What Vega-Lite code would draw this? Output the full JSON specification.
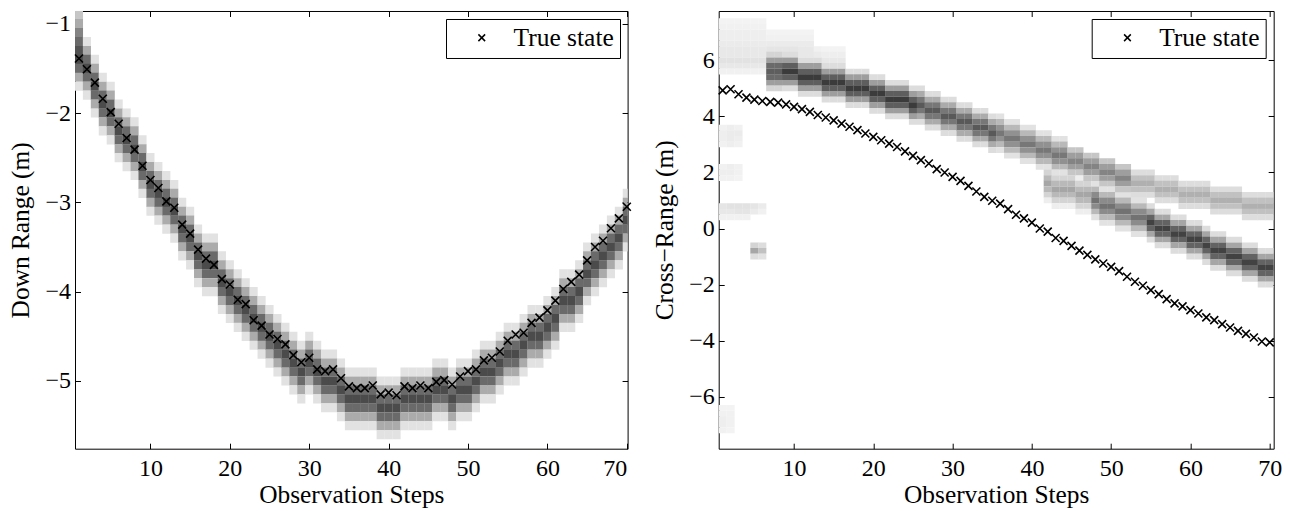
{
"$schema":"https://vega.github.io/schema/vega-lite/v6.json",
"background":"white",
"padding":{"left":8,"top":10,"right":5,"bottom":0},
"bounds":"flush",
"spacing":90.7,
"resolve":{"scale":{"shape":"independent"},"legend":{"shape":"independent"}},
"config":{
"view":{"stroke":null},
"font":"Liberation Serif",
"axis":{"grid":false,"domainColor":"black","domainWidth":1,"tickColor":"black","tickWidth":1,"tickSize":-5.5,"labelFont":"Liberation Serif","labelFontSize":24,"labelColor":"black","titleFont":"Liberation Serif","titleFontSize":25.4,"titleFontWeight":"normal","titleColor":"black","zindex":1},
"axisBottom":{"labelPadding":13,"titlePadding":2},
"axisLeft":{"labelPadding":10,"titlePadding":11},
"legend":{"strokeColor":"black","fillColor":"white","padding":6,"cornerRadius":0,"labelFont":"Liberation Serif","labelFontSize":25.5,"labelColor":"black","symbolStrokeColor":"black","symbolStrokeWidth":1.5,"symbolSize":45,"symbolOffset":17,"labelOffset":19}
},
"datasets":{
"LT":[{"s":1,"y":-1.39},{"s":2,"y":-1.51},{"s":3,"y":-1.66},{"s":4,"y":-1.84},{"s":5,"y":-1.99},{"s":6,"y":-2.12},{"s":7,"y":-2.28},{"s":8,"y":-2.41},{"s":9,"y":-2.59},{"s":10,"y":-2.75},{"s":11,"y":-2.84},{"s":12,"y":-2.99},{"s":13,"y":-3.06},{"s":14,"y":-3.25},{"s":15,"y":-3.35},{"s":16,"y":-3.53},{"s":17,"y":-3.63},{"s":18,"y":-3.7},{"s":19,"y":-3.86},{"s":20,"y":-3.92},{"s":21,"y":-4.09},{"s":22,"y":-4.14},{"s":23,"y":-4.32},{"s":24,"y":-4.38},{"s":25,"y":-4.48},{"s":26,"y":-4.53},{"s":27,"y":-4.59},{"s":28,"y":-4.71},{"s":29,"y":-4.79},{"s":30,"y":-4.74},{"s":31,"y":-4.87},{"s":32,"y":-4.89},{"s":33,"y":-4.87},{"s":34,"y":-4.97},{"s":35,"y":-5.06},{"s":36,"y":-5.08},{"s":37,"y":-5.08},{"s":38,"y":-5.05},{"s":39,"y":-5.15},{"s":40,"y":-5.13},{"s":41,"y":-5.16},{"s":42,"y":-5.06},{"s":43,"y":-5.08},{"s":44,"y":-5.05},{"s":45,"y":-5.08},{"s":46,"y":-5.01},{"s":47,"y":-4.99},{"s":48,"y":-5.04},{"s":49,"y":-4.95},{"s":50,"y":-4.89},{"s":51,"y":-4.87},{"s":52,"y":-4.77},{"s":53,"y":-4.74},{"s":54,"y":-4.67},{"s":55,"y":-4.55},{"s":56,"y":-4.48},{"s":57,"y":-4.46},{"s":58,"y":-4.35},{"s":59,"y":-4.29},{"s":60,"y":-4.21},{"s":61,"y":-4.1},{"s":62,"y":-3.97},{"s":63,"y":-3.89},{"s":64,"y":-3.81},{"s":65,"y":-3.65},{"s":66,"y":-3.5},{"s":67,"y":-3.43},{"s":68,"y":-3.29},{"s":69,"y":-3.18},{"s":70,"y":-3.05}],
"RT":[{"s":1,"y":4.93},{"s":2,"y":4.97},{"s":3,"y":4.79},{"s":4,"y":4.67},{"s":5,"y":4.6},{"s":6,"y":4.55},{"s":7,"y":4.52},{"s":8,"y":4.49},{"s":9,"y":4.43},{"s":10,"y":4.34},{"s":11,"y":4.26},{"s":12,"y":4.16},{"s":13,"y":4.05},{"s":14,"y":3.96},{"s":15,"y":3.86},{"s":16,"y":3.74},{"s":17,"y":3.63},{"s":18,"y":3.51},{"s":19,"y":3.39},{"s":20,"y":3.27},{"s":21,"y":3.15},{"s":22,"y":3.03},{"s":23,"y":2.91},{"s":24,"y":2.75},{"s":25,"y":2.59},{"s":26,"y":2.44},{"s":27,"y":2.32},{"s":28,"y":2.12},{"s":29,"y":2.0},{"s":30,"y":1.84},{"s":31,"y":1.7},{"s":32,"y":1.52},{"s":33,"y":1.32},{"s":34,"y":1.13},{"s":35,"y":0.99},{"s":36,"y":0.89},{"s":37,"y":0.69},{"s":38,"y":0.49},{"s":39,"y":0.36},{"s":40,"y":0.21},{"s":41,"y":0.0},{"s":42,"y":-0.11},{"s":43,"y":-0.34},{"s":44,"y":-0.44},{"s":45,"y":-0.62},{"s":46,"y":-0.79},{"s":47,"y":-0.94},{"s":48,"y":-1.1},{"s":49,"y":-1.25},{"s":50,"y":-1.37},{"s":51,"y":-1.52},{"s":52,"y":-1.72},{"s":53,"y":-1.9},{"s":54,"y":-2.04},{"s":55,"y":-2.2},{"s":56,"y":-2.34},{"s":57,"y":-2.52},{"s":58,"y":-2.67},{"s":59,"y":-2.78},{"s":60,"y":-2.91},{"s":61,"y":-3.03},{"s":62,"y":-3.17},{"s":63,"y":-3.27},{"s":64,"y":-3.41},{"s":65,"y":-3.53},{"s":66,"y":-3.65},{"s":67,"y":-3.76},{"s":68,"y":-3.89},{"s":69,"y":-4.03},{"s":70,"y":-4.06}],
"L":[
{"s":1,"y":-0.9,"v":0.2},{"s":1,"y":-1,"v":0.3},{"s":1,"y":-1.1,"v":0.45},{"s":1,"y":-1.2,"v":0.55},{"s":1,"y":-1.3,"v":0.65},{"s":1,"y":-1.4,"v":0.68},{"s":1,"y":-1.5,"v":0.55},{"s":1,"y":-1.6,"v":0.3},{"s":1,"y":-1.7,"v":0.1},
{"s":2,"y":-1.2,"v":0.1},{"s":2,"y":-1.3,"v":0.3},{"s":2,"y":-1.4,"v":0.55},{"s":2,"y":-1.5,"v":0.68},{"s":2,"y":-1.6,"v":0.55},{"s":2,"y":-1.7,"v":0.3},{"s":2,"y":-1.8,"v":0.1},
{"s":3,"y":-1.4,"v":0.1},{"s":3,"y":-1.5,"v":0.3},{"s":3,"y":-1.6,"v":0.55},{"s":3,"y":-1.7,"v":0.68},{"s":3,"y":-1.8,"v":0.55},{"s":3,"y":-1.9,"v":0.3},{"s":3,"y":-2,"v":0.1},
{"s":4,"y":-1.6,"v":0.1},{"s":4,"y":-1.7,"v":0.3},{"s":4,"y":-1.8,"v":0.55},{"s":4,"y":-1.9,"v":0.68},{"s":4,"y":-2,"v":0.55},{"s":4,"y":-2.1,"v":0.3},{"s":4,"y":-2.2,"v":0.1},
{"s":5,"y":-1.7,"v":0.1},{"s":5,"y":-1.8,"v":0.3},{"s":5,"y":-1.9,"v":0.55},{"s":5,"y":-2,"v":0.68},{"s":5,"y":-2.1,"v":0.55},{"s":5,"y":-2.2,"v":0.3},{"s":5,"y":-2.3,"v":0.1},
{"s":6,"y":-1.9,"v":0.1},{"s":6,"y":-2,"v":0.3},{"s":6,"y":-2.1,"v":0.55},{"s":6,"y":-2.2,"v":0.68},{"s":6,"y":-2.3,"v":0.55},{"s":6,"y":-2.4,"v":0.3},{"s":6,"y":-2.5,"v":0.1},
{"s":7,"y":-2,"v":0.1},{"s":7,"y":-2.1,"v":0.3},{"s":7,"y":-2.2,"v":0.55},{"s":7,"y":-2.3,"v":0.68},{"s":7,"y":-2.4,"v":0.55},{"s":7,"y":-2.5,"v":0.3},{"s":7,"y":-2.6,"v":0.1},
{"s":8,"y":-2.1,"v":0.1},{"s":8,"y":-2.2,"v":0.3},{"s":8,"y":-2.3,"v":0.55},{"s":8,"y":-2.4,"v":0.68},{"s":8,"y":-2.5,"v":0.55},{"s":8,"y":-2.6,"v":0.3},{"s":8,"y":-2.7,"v":0.1},
{"s":9,"y":-2.3,"v":0.1},{"s":9,"y":-2.4,"v":0.3},{"s":9,"y":-2.5,"v":0.55},{"s":9,"y":-2.6,"v":0.68},{"s":9,"y":-2.7,"v":0.55},{"s":9,"y":-2.8,"v":0.3},{"s":9,"y":-2.9,"v":0.1},
{"s":10,"y":-2.5,"v":0.1},{"s":10,"y":-2.6,"v":0.3},{"s":10,"y":-2.7,"v":0.55},{"s":10,"y":-2.8,"v":0.68},{"s":10,"y":-2.9,"v":0.55},{"s":10,"y":-3,"v":0.3},{"s":10,"y":-3.1,"v":0.1},
{"s":11,"y":-2.6,"v":0.1},{"s":11,"y":-2.7,"v":0.3},{"s":11,"y":-2.8,"v":0.55},{"s":11,"y":-2.9,"v":0.68},{"s":11,"y":-3,"v":0.55},{"s":11,"y":-3.1,"v":0.3},{"s":11,"y":-3.2,"v":0.1},
{"s":12,"y":-2.7,"v":0.1},{"s":12,"y":-2.8,"v":0.3},{"s":12,"y":-2.9,"v":0.55},{"s":12,"y":-3,"v":0.68},{"s":12,"y":-3.1,"v":0.55},{"s":12,"y":-3.2,"v":0.3},{"s":12,"y":-3.3,"v":0.1},
{"s":13,"y":-2.8,"v":0.1},{"s":13,"y":-2.9,"v":0.3},{"s":13,"y":-3,"v":0.55},{"s":13,"y":-3.1,"v":0.68},{"s":13,"y":-3.2,"v":0.55},{"s":13,"y":-3.3,"v":0.3},{"s":13,"y":-3.4,"v":0.1},
{"s":14,"y":-3,"v":0.1},{"s":14,"y":-3.1,"v":0.3},{"s":14,"y":-3.2,"v":0.55},{"s":14,"y":-3.3,"v":0.68},{"s":14,"y":-3.4,"v":0.55},{"s":14,"y":-3.5,"v":0.3},{"s":14,"y":-3.6,"v":0.1},
{"s":15,"y":-3.1,"v":0.1},{"s":15,"y":-3.2,"v":0.3},{"s":15,"y":-3.3,"v":0.55},{"s":15,"y":-3.4,"v":0.68},{"s":15,"y":-3.5,"v":0.55},{"s":15,"y":-3.6,"v":0.3},{"s":15,"y":-3.7,"v":0.1},
{"s":16,"y":-3.3,"v":0.1},{"s":16,"y":-3.4,"v":0.3},{"s":16,"y":-3.5,"v":0.55},{"s":16,"y":-3.6,"v":0.68},{"s":16,"y":-3.7,"v":0.55},{"s":16,"y":-3.8,"v":0.3},{"s":16,"y":-3.9,"v":0.1},
{"s":17,"y":-3.4,"v":0.1},{"s":17,"y":-3.5,"v":0.3},{"s":17,"y":-3.6,"v":0.55},{"s":17,"y":-3.7,"v":0.68},{"s":17,"y":-3.8,"v":0.55},{"s":17,"y":-3.9,"v":0.3},{"s":17,"y":-4,"v":0.1},
{"s":18,"y":-3.4,"v":0.1},{"s":18,"y":-3.5,"v":0.3},{"s":18,"y":-3.6,"v":0.55},{"s":18,"y":-3.7,"v":0.68},{"s":18,"y":-3.8,"v":0.55},{"s":18,"y":-3.9,"v":0.3},{"s":18,"y":-4,"v":0.1},
{"s":19,"y":-3.6,"v":0.1},{"s":19,"y":-3.7,"v":0.3},{"s":19,"y":-3.8,"v":0.55},{"s":19,"y":-3.9,"v":0.68},{"s":19,"y":-4,"v":0.55},{"s":19,"y":-4.1,"v":0.3},{"s":19,"y":-4.2,"v":0.1},
{"s":20,"y":-3.7,"v":0.1},{"s":20,"y":-3.8,"v":0.3},{"s":20,"y":-3.9,"v":0.55},{"s":20,"y":-4,"v":0.68},{"s":20,"y":-4.1,"v":0.55},{"s":20,"y":-4.2,"v":0.3},{"s":20,"y":-4.3,"v":0.1},
{"s":21,"y":-3.8,"v":0.1},{"s":21,"y":-3.9,"v":0.3},{"s":21,"y":-4,"v":0.55},{"s":21,"y":-4.1,"v":0.68},{"s":21,"y":-4.2,"v":0.55},{"s":21,"y":-4.3,"v":0.3},{"s":21,"y":-4.4,"v":0.1},
{"s":22,"y":-3.9,"v":0.1},{"s":22,"y":-4,"v":0.3},{"s":22,"y":-4.1,"v":0.55},{"s":22,"y":-4.2,"v":0.68},{"s":22,"y":-4.3,"v":0.55},{"s":22,"y":-4.4,"v":0.3},{"s":22,"y":-4.5,"v":0.1},
{"s":23,"y":-4,"v":0.1},{"s":23,"y":-4.1,"v":0.3},{"s":23,"y":-4.2,"v":0.55},{"s":23,"y":-4.3,"v":0.68},{"s":23,"y":-4.4,"v":0.55},{"s":23,"y":-4.5,"v":0.3},{"s":23,"y":-4.6,"v":0.1},
{"s":24,"y":-4.1,"v":0.1},{"s":24,"y":-4.2,"v":0.3},{"s":24,"y":-4.3,"v":0.55},{"s":24,"y":-4.4,"v":0.68},{"s":24,"y":-4.5,"v":0.55},{"s":24,"y":-4.6,"v":0.3},{"s":24,"y":-4.7,"v":0.1},
{"s":25,"y":-4.2,"v":0.1},{"s":25,"y":-4.3,"v":0.3},{"s":25,"y":-4.4,"v":0.55},{"s":25,"y":-4.5,"v":0.68},{"s":25,"y":-4.6,"v":0.55},{"s":25,"y":-4.7,"v":0.3},{"s":25,"y":-4.8,"v":0.1},
{"s":26,"y":-4.3,"v":0.1},{"s":26,"y":-4.4,"v":0.3},{"s":26,"y":-4.5,"v":0.55},{"s":26,"y":-4.6,"v":0.68},{"s":26,"y":-4.7,"v":0.55},{"s":26,"y":-4.8,"v":0.3},{"s":26,"y":-4.9,"v":0.1},
{"s":27,"y":-4.4,"v":0.1},{"s":27,"y":-4.5,"v":0.3},{"s":27,"y":-4.6,"v":0.55},{"s":27,"y":-4.7,"v":0.68},{"s":27,"y":-4.8,"v":0.55},{"s":27,"y":-4.9,"v":0.3},{"s":27,"y":-5,"v":0.1},
{"s":28,"y":-4.5,"v":0.1},{"s":28,"y":-4.6,"v":0.3},{"s":28,"y":-4.7,"v":0.55},{"s":28,"y":-4.8,"v":0.68},{"s":28,"y":-4.9,"v":0.55},{"s":28,"y":-5,"v":0.3},{"s":28,"y":-5.1,"v":0.1},
{"s":29,"y":-4.6,"v":0.1},{"s":29,"y":-4.7,"v":0.3},{"s":29,"y":-4.8,"v":0.55},{"s":29,"y":-4.9,"v":0.68},{"s":29,"y":-5,"v":0.55},{"s":29,"y":-5.1,"v":0.3},{"s":29,"y":-5.2,"v":0.1},
{"s":30,"y":-4.5,"v":0.1},{"s":30,"y":-4.6,"v":0.3},{"s":30,"y":-4.7,"v":0.55},{"s":30,"y":-4.8,"v":0.68},{"s":30,"y":-4.9,"v":0.55},{"s":30,"y":-5,"v":0.3},{"s":30,"y":-5.1,"v":0.1},
{"s":31,"y":-4.6,"v":0.1},{"s":31,"y":-4.7,"v":0.3},{"s":31,"y":-4.8,"v":0.55},{"s":31,"y":-4.9,"v":0.68},{"s":31,"y":-5,"v":0.55},{"s":31,"y":-5.1,"v":0.3},{"s":31,"y":-5.2,"v":0.1},
{"s":32,"y":-4.7,"v":0.1},{"s":32,"y":-4.8,"v":0.3},{"s":32,"y":-4.9,"v":0.55},{"s":32,"y":-5,"v":0.68},{"s":32,"y":-5.1,"v":0.55},{"s":32,"y":-5.2,"v":0.3},{"s":32,"y":-5.3,"v":0.1},
{"s":33,"y":-4.7,"v":0.1},{"s":33,"y":-4.8,"v":0.3},{"s":33,"y":-4.9,"v":0.55},{"s":33,"y":-5,"v":0.68},{"s":33,"y":-5.1,"v":0.55},{"s":33,"y":-5.2,"v":0.3},{"s":33,"y":-5.3,"v":0.1},
{"s":34,"y":-4.8,"v":0.1},{"s":34,"y":-4.9,"v":0.3},{"s":34,"y":-5,"v":0.55},{"s":34,"y":-5.1,"v":0.68},{"s":34,"y":-5.2,"v":0.55},{"s":34,"y":-5.3,"v":0.3},{"s":34,"y":-5.4,"v":0.1},
{"s":35,"y":-4.9,"v":0.1},{"s":35,"y":-5,"v":0.3},{"s":35,"y":-5.1,"v":0.55},{"s":35,"y":-5.2,"v":0.68},{"s":35,"y":-5.3,"v":0.55},{"s":35,"y":-5.4,"v":0.3},{"s":35,"y":-5.5,"v":0.1},
{"s":36,"y":-4.9,"v":0.1},{"s":36,"y":-5,"v":0.3},{"s":36,"y":-5.1,"v":0.55},{"s":36,"y":-5.2,"v":0.68},{"s":36,"y":-5.3,"v":0.55},{"s":36,"y":-5.4,"v":0.3},{"s":36,"y":-5.5,"v":0.1},
{"s":37,"y":-4.9,"v":0.1},{"s":37,"y":-5,"v":0.3},{"s":37,"y":-5.1,"v":0.55},{"s":37,"y":-5.2,"v":0.68},{"s":37,"y":-5.3,"v":0.55},{"s":37,"y":-5.4,"v":0.3},{"s":37,"y":-5.5,"v":0.1},
{"s":38,"y":-4.9,"v":0.1},{"s":38,"y":-5,"v":0.3},{"s":38,"y":-5.1,"v":0.55},{"s":38,"y":-5.2,"v":0.68},{"s":38,"y":-5.3,"v":0.55},{"s":38,"y":-5.4,"v":0.3},{"s":38,"y":-5.5,"v":0.1},
{"s":39,"y":-5,"v":0.1},{"s":39,"y":-5.1,"v":0.3},{"s":39,"y":-5.2,"v":0.55},{"s":39,"y":-5.3,"v":0.68},{"s":39,"y":-5.4,"v":0.55},{"s":39,"y":-5.5,"v":0.3},{"s":39,"y":-5.6,"v":0.1},
{"s":40,"y":-5,"v":0.1},{"s":40,"y":-5.1,"v":0.3},{"s":40,"y":-5.2,"v":0.55},{"s":40,"y":-5.3,"v":0.68},{"s":40,"y":-5.4,"v":0.55},{"s":40,"y":-5.5,"v":0.3},{"s":40,"y":-5.6,"v":0.1},
{"s":41,"y":-5,"v":0.1},{"s":41,"y":-5.1,"v":0.3},{"s":41,"y":-5.2,"v":0.55},{"s":41,"y":-5.3,"v":0.68},{"s":41,"y":-5.4,"v":0.55},{"s":41,"y":-5.5,"v":0.3},{"s":41,"y":-5.6,"v":0.1},
{"s":42,"y":-4.9,"v":0.1},{"s":42,"y":-5,"v":0.3},{"s":42,"y":-5.1,"v":0.55},{"s":42,"y":-5.2,"v":0.68},{"s":42,"y":-5.3,"v":0.55},{"s":42,"y":-5.4,"v":0.3},{"s":42,"y":-5.5,"v":0.1},
{"s":43,"y":-4.9,"v":0.1},{"s":43,"y":-5,"v":0.3},{"s":43,"y":-5.1,"v":0.55},{"s":43,"y":-5.2,"v":0.68},{"s":43,"y":-5.3,"v":0.55},{"s":43,"y":-5.4,"v":0.3},{"s":43,"y":-5.5,"v":0.1},
{"s":44,"y":-4.9,"v":0.1},{"s":44,"y":-5,"v":0.3},{"s":44,"y":-5.1,"v":0.55},{"s":44,"y":-5.2,"v":0.68},{"s":44,"y":-5.3,"v":0.55},{"s":44,"y":-5.4,"v":0.3},{"s":44,"y":-5.5,"v":0.1},
{"s":45,"y":-4.9,"v":0.1},{"s":45,"y":-5,"v":0.3},{"s":45,"y":-5.1,"v":0.55},{"s":45,"y":-5.2,"v":0.68},{"s":45,"y":-5.3,"v":0.55},{"s":45,"y":-5.4,"v":0.3},{"s":45,"y":-5.5,"v":0.1},
{"s":46,"y":-4.8,"v":0.1},{"s":46,"y":-4.9,"v":0.3},{"s":46,"y":-5,"v":0.55},{"s":46,"y":-5.1,"v":0.68},{"s":46,"y":-5.2,"v":0.55},{"s":46,"y":-5.3,"v":0.3},{"s":46,"y":-5.4,"v":0.1},
{"s":47,"y":-4.8,"v":0.1},{"s":47,"y":-4.9,"v":0.3},{"s":47,"y":-5,"v":0.55},{"s":47,"y":-5.1,"v":0.68},{"s":47,"y":-5.2,"v":0.55},{"s":47,"y":-5.3,"v":0.3},{"s":47,"y":-5.4,"v":0.1},
{"s":48,"y":-4.9,"v":0.1},{"s":48,"y":-5,"v":0.3},{"s":48,"y":-5.1,"v":0.55},{"s":48,"y":-5.2,"v":0.68},{"s":48,"y":-5.3,"v":0.55},{"s":48,"y":-5.4,"v":0.3},{"s":48,"y":-5.5,"v":0.1},
{"s":49,"y":-4.8,"v":0.1},{"s":49,"y":-4.9,"v":0.3},{"s":49,"y":-5,"v":0.55},{"s":49,"y":-5.1,"v":0.68},{"s":49,"y":-5.2,"v":0.55},{"s":49,"y":-5.3,"v":0.3},{"s":49,"y":-5.4,"v":0.1},
{"s":50,"y":-4.8,"v":0.1},{"s":50,"y":-4.9,"v":0.3},{"s":50,"y":-5,"v":0.55},{"s":50,"y":-5.1,"v":0.68},{"s":50,"y":-5.2,"v":0.55},{"s":50,"y":-5.3,"v":0.3},{"s":50,"y":-5.4,"v":0.1},
{"s":51,"y":-4.7,"v":0.1},{"s":51,"y":-4.8,"v":0.3},{"s":51,"y":-4.9,"v":0.55},{"s":51,"y":-5,"v":0.68},{"s":51,"y":-5.1,"v":0.55},{"s":51,"y":-5.2,"v":0.3},{"s":51,"y":-5.3,"v":0.1},
{"s":52,"y":-4.6,"v":0.1},{"s":52,"y":-4.7,"v":0.3},{"s":52,"y":-4.8,"v":0.55},{"s":52,"y":-4.9,"v":0.68},{"s":52,"y":-5,"v":0.55},{"s":52,"y":-5.1,"v":0.3},{"s":52,"y":-5.2,"v":0.1},
{"s":53,"y":-4.6,"v":0.1},{"s":53,"y":-4.7,"v":0.3},{"s":53,"y":-4.8,"v":0.55},{"s":53,"y":-4.9,"v":0.68},{"s":53,"y":-5,"v":0.55},{"s":53,"y":-5.1,"v":0.3},{"s":53,"y":-5.2,"v":0.1},
{"s":54,"y":-4.5,"v":0.1},{"s":54,"y":-4.6,"v":0.3},{"s":54,"y":-4.7,"v":0.55},{"s":54,"y":-4.8,"v":0.68},{"s":54,"y":-4.9,"v":0.55},{"s":54,"y":-5,"v":0.3},{"s":54,"y":-5.1,"v":0.1},
{"s":55,"y":-4.4,"v":0.1},{"s":55,"y":-4.5,"v":0.3},{"s":55,"y":-4.6,"v":0.55},{"s":55,"y":-4.7,"v":0.68},{"s":55,"y":-4.8,"v":0.55},{"s":55,"y":-4.9,"v":0.3},{"s":55,"y":-5,"v":0.1},
{"s":56,"y":-4.4,"v":0.1},{"s":56,"y":-4.5,"v":0.3},{"s":56,"y":-4.6,"v":0.55},{"s":56,"y":-4.7,"v":0.68},{"s":56,"y":-4.8,"v":0.55},{"s":56,"y":-4.9,"v":0.3},{"s":56,"y":-5,"v":0.1},
{"s":57,"y":-4.3,"v":0.1},{"s":57,"y":-4.4,"v":0.3},{"s":57,"y":-4.5,"v":0.55},{"s":57,"y":-4.6,"v":0.68},{"s":57,"y":-4.7,"v":0.55},{"s":57,"y":-4.8,"v":0.3},{"s":57,"y":-4.9,"v":0.1},
{"s":58,"y":-4.2,"v":0.1},{"s":58,"y":-4.3,"v":0.3},{"s":58,"y":-4.4,"v":0.55},{"s":58,"y":-4.5,"v":0.68},{"s":58,"y":-4.6,"v":0.55},{"s":58,"y":-4.7,"v":0.3},{"s":58,"y":-4.8,"v":0.1},
{"s":59,"y":-4.2,"v":0.1},{"s":59,"y":-4.3,"v":0.3},{"s":59,"y":-4.4,"v":0.55},{"s":59,"y":-4.5,"v":0.68},{"s":59,"y":-4.6,"v":0.55},{"s":59,"y":-4.7,"v":0.3},{"s":59,"y":-4.8,"v":0.1},
{"s":60,"y":-4.1,"v":0.1},{"s":60,"y":-4.2,"v":0.3},{"s":60,"y":-4.3,"v":0.55},{"s":60,"y":-4.4,"v":0.68},{"s":60,"y":-4.5,"v":0.55},{"s":60,"y":-4.6,"v":0.3},{"s":60,"y":-4.7,"v":0.1},
{"s":61,"y":-4,"v":0.1},{"s":61,"y":-4.1,"v":0.3},{"s":61,"y":-4.2,"v":0.55},{"s":61,"y":-4.3,"v":0.68},{"s":61,"y":-4.4,"v":0.55},{"s":61,"y":-4.5,"v":0.3},{"s":61,"y":-4.6,"v":0.1},
{"s":62,"y":-3.8,"v":0.1},{"s":62,"y":-3.9,"v":0.3},{"s":62,"y":-4,"v":0.55},{"s":62,"y":-4.1,"v":0.68},{"s":62,"y":-4.2,"v":0.55},{"s":62,"y":-4.3,"v":0.3},{"s":62,"y":-4.4,"v":0.1},
{"s":63,"y":-3.8,"v":0.1},{"s":63,"y":-3.9,"v":0.3},{"s":63,"y":-4,"v":0.55},{"s":63,"y":-4.1,"v":0.68},{"s":63,"y":-4.2,"v":0.55},{"s":63,"y":-4.3,"v":0.3},{"s":63,"y":-4.4,"v":0.1},
{"s":64,"y":-3.7,"v":0.1},{"s":64,"y":-3.8,"v":0.3},{"s":64,"y":-3.9,"v":0.55},{"s":64,"y":-4,"v":0.68},{"s":64,"y":-4.1,"v":0.55},{"s":64,"y":-4.2,"v":0.3},{"s":64,"y":-4.3,"v":0.1},
{"s":65,"y":-3.5,"v":0.1},{"s":65,"y":-3.6,"v":0.3},{"s":65,"y":-3.7,"v":0.55},{"s":65,"y":-3.8,"v":0.68},{"s":65,"y":-3.9,"v":0.55},{"s":65,"y":-4,"v":0.3},{"s":65,"y":-4.1,"v":0.1},
{"s":66,"y":-3.4,"v":0.1},{"s":66,"y":-3.5,"v":0.3},{"s":66,"y":-3.6,"v":0.55},{"s":66,"y":-3.7,"v":0.68},{"s":66,"y":-3.8,"v":0.55},{"s":66,"y":-3.9,"v":0.3},{"s":66,"y":-4,"v":0.1},
{"s":67,"y":-3.3,"v":0.1},{"s":67,"y":-3.4,"v":0.3},{"s":67,"y":-3.5,"v":0.55},{"s":67,"y":-3.6,"v":0.68},{"s":67,"y":-3.7,"v":0.55},{"s":67,"y":-3.8,"v":0.3},{"s":67,"y":-3.9,"v":0.1},
{"s":68,"y":-3.2,"v":0.1},{"s":68,"y":-3.3,"v":0.3},{"s":68,"y":-3.4,"v":0.55},{"s":68,"y":-3.5,"v":0.68},{"s":68,"y":-3.6,"v":0.55},{"s":68,"y":-3.7,"v":0.3},{"s":68,"y":-3.8,"v":0.1},
{"s":69,"y":-3.1,"v":0.1},{"s":69,"y":-3.2,"v":0.3},{"s":69,"y":-3.3,"v":0.55},{"s":69,"y":-3.4,"v":0.68},{"s":69,"y":-3.5,"v":0.55},{"s":69,"y":-3.6,"v":0.3},{"s":69,"y":-3.7,"v":0.1},
{"s":70,"y":-2.9,"v":0.1},{"s":70,"y":-3,"v":0.3},{"s":70,"y":-3.1,"v":0.55},{"s":70,"y":-3.2,"v":0.68},{"s":70,"y":-3.3,"v":0.55},{"s":70,"y":-3.4,"v":0.3},{"s":70,"y":-3.5,"v":0.1}
],
"R":[
{"s":1,"y":7.4,"v":0.04},{"s":1,"y":7.2,"v":0.05},{"s":1,"y":7,"v":0.06},{"s":1,"y":6.8,"v":0.06},{"s":1,"y":6.6,"v":0.07},{"s":1,"y":6.4,"v":0.08},{"s":1,"y":6.2,"v":0.08},{"s":1,"y":6,"v":0.1},{"s":1,"y":5.8,"v":0.08},{"s":1,"y":5.6,"v":0.05},
{"s":2,"y":7.4,"v":0.04},{"s":2,"y":7.2,"v":0.05},{"s":2,"y":7,"v":0.06},{"s":2,"y":6.8,"v":0.06},{"s":2,"y":6.6,"v":0.07},{"s":2,"y":6.4,"v":0.08},{"s":2,"y":6.2,"v":0.08},{"s":2,"y":6,"v":0.1},{"s":2,"y":5.8,"v":0.08},{"s":2,"y":5.6,"v":0.05},
{"s":3,"y":7.4,"v":0.04},{"s":3,"y":7.2,"v":0.05},{"s":3,"y":7,"v":0.06},{"s":3,"y":6.8,"v":0.06},{"s":3,"y":6.6,"v":0.07},{"s":3,"y":6.4,"v":0.08},{"s":3,"y":6.2,"v":0.08},{"s":3,"y":6,"v":0.1},{"s":3,"y":5.8,"v":0.08},{"s":3,"y":5.6,"v":0.05},
{"s":4,"y":7.4,"v":0.04},{"s":4,"y":7.2,"v":0.05},{"s":4,"y":7,"v":0.06},{"s":4,"y":6.8,"v":0.06},{"s":4,"y":6.6,"v":0.07},{"s":4,"y":6.4,"v":0.08},{"s":4,"y":6.2,"v":0.08},{"s":4,"y":6,"v":0.1},{"s":4,"y":5.8,"v":0.08},{"s":4,"y":5.6,"v":0.05},
{"s":5,"y":7.4,"v":0.04},{"s":5,"y":7.2,"v":0.05},{"s":5,"y":7,"v":0.06},{"s":5,"y":6.8,"v":0.06},{"s":5,"y":6.6,"v":0.07},{"s":5,"y":6.4,"v":0.08},{"s":5,"y":6.2,"v":0.08},{"s":5,"y":6,"v":0.1},{"s":5,"y":5.8,"v":0.08},{"s":5,"y":5.6,"v":0.05},
{"s":6,"y":7.4,"v":0.04},{"s":6,"y":7.2,"v":0.05},{"s":6,"y":7,"v":0.06},{"s":6,"y":6.8,"v":0.06},{"s":6,"y":6.6,"v":0.07},{"s":6,"y":6.4,"v":0.08},{"s":6,"y":6.2,"v":0.08},{"s":6,"y":6,"v":0.1},{"s":6,"y":5.8,"v":0.08},{"s":6,"y":5.6,"v":0.05},
{"s":7,"y":7,"v":0.04},{"s":7,"y":6.8,"v":0.05},{"s":7,"y":6.6,"v":0.07},{"s":7,"y":6.4,"v":0.09},
{"s":8,"y":7,"v":0.04},{"s":8,"y":6.8,"v":0.05},{"s":8,"y":6.6,"v":0.07},{"s":8,"y":6.4,"v":0.09},
{"s":9,"y":7,"v":0.04},{"s":9,"y":6.8,"v":0.05},{"s":9,"y":6.6,"v":0.07},{"s":9,"y":6.4,"v":0.09},
{"s":10,"y":7,"v":0.04},{"s":10,"y":6.8,"v":0.05},{"s":10,"y":6.6,"v":0.07},{"s":10,"y":6.4,"v":0.09},
{"s":11,"y":7,"v":0.04},{"s":11,"y":6.8,"v":0.05},{"s":11,"y":6.6,"v":0.07},{"s":11,"y":6.4,"v":0.08},{"s":11,"y":6.2,"v":0.08},
{"s":12,"y":7,"v":0.04},{"s":12,"y":6.8,"v":0.05},{"s":12,"y":6.6,"v":0.07},{"s":12,"y":6.4,"v":0.08},{"s":12,"y":6.2,"v":0.08},
{"s":13,"y":6.4,"v":0.05},{"s":13,"y":6.2,"v":0.07},
{"s":14,"y":6.4,"v":0.04},{"s":14,"y":6.2,"v":0.06},{"s":14,"y":6,"v":0.08},
{"s":15,"y":6.4,"v":0.04},{"s":15,"y":6.2,"v":0.06},{"s":15,"y":6,"v":0.08},
{"s":16,"y":6.4,"v":0.04},{"s":16,"y":6.2,"v":0.06},{"s":16,"y":6,"v":0.08},
{"s":5,"y":-0.6,"v":0.15},{"s":5,"y":-0.8,"v":0.32},{"s":5,"y":-1,"v":0.12},{"s":6,"y":-0.6,"v":0.12},{"s":6,"y":-0.8,"v":0.22},{"s":6,"y":-1,"v":0.1},
{"s":1,"y":0.8,"v":0.09},{"s":1,"y":0.6,"v":0.08},{"s":2,"y":0.8,"v":0.1},{"s":2,"y":0.6,"v":0.08},{"s":3,"y":0.8,"v":0.1},{"s":3,"y":0.6,"v":0.09},{"s":4,"y":0.8,"v":0.1},{"s":4,"y":0.6,"v":0.09},{"s":5,"y":0.8,"v":0.09},{"s":5,"y":0.6,"v":0.07},{"s":6,"y":0.8,"v":0.07},{"s":6,"y":0.6,"v":0.05},
{"s":1,"y":0.4,"v":0.05},{"s":2,"y":0.4,"v":0.05},{"s":3,"y":0.4,"v":0.05},{"s":4,"y":0.4,"v":0.05},
{"s":1,"y":3.6,"v":0.05},{"s":1,"y":3.4,"v":0.06},{"s":1,"y":3.2,"v":0.06},{"s":1,"y":3,"v":0.05},{"s":2,"y":3.6,"v":0.06},{"s":2,"y":3.4,"v":0.07},{"s":2,"y":3.2,"v":0.07},{"s":2,"y":3,"v":0.06},{"s":3,"y":3.6,"v":0.05},{"s":3,"y":3.4,"v":0.07},{"s":3,"y":3.2,"v":0.06},{"s":3,"y":3,"v":0.05},
{"s":1,"y":2.2,"v":0.05},{"s":1,"y":2,"v":0.06},{"s":1,"y":1.8,"v":0.05},{"s":2,"y":2.2,"v":0.06},{"s":2,"y":2,"v":0.06},{"s":2,"y":1.8,"v":0.05},{"s":3,"y":2.2,"v":0.05},{"s":3,"y":2,"v":0.05},{"s":3,"y":1.8,"v":0.04},
{"s":1,"y":-6.4,"v":0.04},{"s":1,"y":-6.6,"v":0.05},{"s":1,"y":-6.8,"v":0.06},{"s":1,"y":-7,"v":0.06},{"s":1,"y":-7.2,"v":0.05},{"s":2,"y":-6.4,"v":0.04},{"s":2,"y":-6.6,"v":0.05},{"s":2,"y":-6.8,"v":0.05},{"s":2,"y":-7,"v":0.05},{"s":2,"y":-7.2,"v":0.04},
{"s":7,"y":6.2,"v":0.15},{"s":7,"y":6,"v":0.35},{"s":7,"y":5.8,"v":0.55},{"s":7,"y":5.6,"v":0.6},{"s":7,"y":5.4,"v":0.55},{"s":7,"y":5.2,"v":0.35},{"s":7,"y":5,"v":0.15},
{"s":8,"y":6.2,"v":0.15},{"s":8,"y":6,"v":0.35},{"s":8,"y":5.8,"v":0.55},{"s":8,"y":5.6,"v":0.6},{"s":8,"y":5.4,"v":0.55},{"s":8,"y":5.2,"v":0.35},{"s":8,"y":5,"v":0.15},
{"s":9,"y":6.2,"v":0.12},{"s":9,"y":6,"v":0.35},{"s":9,"y":5.8,"v":0.6},{"s":9,"y":5.6,"v":0.75},{"s":9,"y":5.4,"v":0.6},{"s":9,"y":5.2,"v":0.35},{"s":9,"y":5,"v":0.12},
{"s":10,"y":6.2,"v":0.12},{"s":10,"y":6,"v":0.35},{"s":10,"y":5.8,"v":0.6},{"s":10,"y":5.6,"v":0.75},{"s":10,"y":5.4,"v":0.6},{"s":10,"y":5.2,"v":0.35},{"s":10,"y":5,"v":0.12},
{"s":11,"y":6,"v":0.12},{"s":11,"y":5.8,"v":0.35},{"s":11,"y":5.6,"v":0.6},{"s":11,"y":5.4,"v":0.75},{"s":11,"y":5.2,"v":0.6},{"s":11,"y":5,"v":0.35},{"s":11,"y":4.8,"v":0.12},
{"s":12,"y":6,"v":0.12},{"s":12,"y":5.8,"v":0.35},{"s":12,"y":5.6,"v":0.6},{"s":12,"y":5.4,"v":0.75},{"s":12,"y":5.2,"v":0.6},{"s":12,"y":5,"v":0.35},{"s":12,"y":4.8,"v":0.12},
{"s":13,"y":6,"v":0.12},{"s":13,"y":5.8,"v":0.35},{"s":13,"y":5.6,"v":0.6},{"s":13,"y":5.4,"v":0.75},{"s":13,"y":5.2,"v":0.6},{"s":13,"y":5,"v":0.35},{"s":13,"y":4.8,"v":0.12},
{"s":14,"y":5.8,"v":0.12},{"s":14,"y":5.6,"v":0.35},{"s":14,"y":5.4,"v":0.6},{"s":14,"y":5.2,"v":0.75},{"s":14,"y":5,"v":0.6},{"s":14,"y":4.8,"v":0.35},{"s":14,"y":4.6,"v":0.12},
{"s":15,"y":5.8,"v":0.12},{"s":15,"y":5.6,"v":0.35},{"s":15,"y":5.4,"v":0.6},{"s":15,"y":5.2,"v":0.75},{"s":15,"y":5,"v":0.6},{"s":15,"y":4.8,"v":0.35},{"s":15,"y":4.6,"v":0.12},
{"s":16,"y":5.8,"v":0.12},{"s":16,"y":5.6,"v":0.35},{"s":16,"y":5.4,"v":0.6},{"s":16,"y":5.2,"v":0.75},{"s":16,"y":5,"v":0.6},{"s":16,"y":4.8,"v":0.35},{"s":16,"y":4.6,"v":0.12},
{"s":17,"y":5.6,"v":0.12},{"s":17,"y":5.4,"v":0.35},{"s":17,"y":5.2,"v":0.6},{"s":17,"y":5,"v":0.75},{"s":17,"y":4.8,"v":0.6},{"s":17,"y":4.6,"v":0.35},{"s":17,"y":4.4,"v":0.12},
{"s":18,"y":5.6,"v":0.12},{"s":18,"y":5.4,"v":0.35},{"s":18,"y":5.2,"v":0.6},{"s":18,"y":5,"v":0.75},{"s":18,"y":4.8,"v":0.6},{"s":18,"y":4.6,"v":0.35},{"s":18,"y":4.4,"v":0.12},
{"s":19,"y":5.6,"v":0.12},{"s":19,"y":5.4,"v":0.35},{"s":19,"y":5.2,"v":0.6},{"s":19,"y":5,"v":0.75},{"s":19,"y":4.8,"v":0.6},{"s":19,"y":4.6,"v":0.35},{"s":19,"y":4.4,"v":0.12},
{"s":20,"y":5.4,"v":0.12},{"s":20,"y":5.2,"v":0.35},{"s":20,"y":5,"v":0.6},{"s":20,"y":4.8,"v":0.75},{"s":20,"y":4.6,"v":0.6},{"s":20,"y":4.4,"v":0.35},{"s":20,"y":4.2,"v":0.12},
{"s":21,"y":5.4,"v":0.12},{"s":21,"y":5.2,"v":0.35},{"s":21,"y":5,"v":0.6},{"s":21,"y":4.8,"v":0.75},{"s":21,"y":4.6,"v":0.6},{"s":21,"y":4.4,"v":0.35},{"s":21,"y":4.2,"v":0.12},
{"s":22,"y":5.2,"v":0.12},{"s":22,"y":5,"v":0.35},{"s":22,"y":4.8,"v":0.6},{"s":22,"y":4.6,"v":0.75},{"s":22,"y":4.4,"v":0.6},{"s":22,"y":4.2,"v":0.35},{"s":22,"y":4,"v":0.12},
{"s":23,"y":5.2,"v":0.12},{"s":23,"y":5,"v":0.35},{"s":23,"y":4.8,"v":0.6},{"s":23,"y":4.6,"v":0.75},{"s":23,"y":4.4,"v":0.6},{"s":23,"y":4.2,"v":0.35},{"s":23,"y":4,"v":0.12},
{"s":24,"y":5.2,"v":0.12},{"s":24,"y":5,"v":0.35},{"s":24,"y":4.8,"v":0.6},{"s":24,"y":4.6,"v":0.75},{"s":24,"y":4.4,"v":0.6},{"s":24,"y":4.2,"v":0.35},{"s":24,"y":4,"v":0.12},
{"s":25,"y":5,"v":0.12},{"s":25,"y":4.8,"v":0.35},{"s":25,"y":4.6,"v":0.6},{"s":25,"y":4.4,"v":0.75},{"s":25,"y":4.2,"v":0.6},{"s":25,"y":4,"v":0.35},{"s":25,"y":3.8,"v":0.12},
{"s":26,"y":5,"v":0.12},{"s":26,"y":4.8,"v":0.3},{"s":26,"y":4.6,"v":0.5},{"s":26,"y":4.4,"v":0.62},{"s":26,"y":4.2,"v":0.5},{"s":26,"y":4,"v":0.3},{"s":26,"y":3.8,"v":0.12},
{"s":27,"y":4.8,"v":0.12},{"s":27,"y":4.6,"v":0.3},{"s":27,"y":4.4,"v":0.5},{"s":27,"y":4.2,"v":0.62},{"s":27,"y":4,"v":0.5},{"s":27,"y":3.8,"v":0.3},{"s":27,"y":3.6,"v":0.12},
{"s":28,"y":4.8,"v":0.12},{"s":28,"y":4.6,"v":0.3},{"s":28,"y":4.4,"v":0.5},{"s":28,"y":4.2,"v":0.62},{"s":28,"y":4,"v":0.5},{"s":28,"y":3.8,"v":0.3},{"s":28,"y":3.6,"v":0.12},
{"s":29,"y":4.6,"v":0.12},{"s":29,"y":4.4,"v":0.3},{"s":29,"y":4.2,"v":0.5},{"s":29,"y":4,"v":0.62},{"s":29,"y":3.8,"v":0.5},{"s":29,"y":3.6,"v":0.3},{"s":29,"y":3.4,"v":0.12},
{"s":30,"y":4.6,"v":0.12},{"s":30,"y":4.4,"v":0.3},{"s":30,"y":4.2,"v":0.5},{"s":30,"y":4,"v":0.62},{"s":30,"y":3.8,"v":0.5},{"s":30,"y":3.6,"v":0.3},{"s":30,"y":3.4,"v":0.12},
{"s":31,"y":4.4,"v":0.12},{"s":31,"y":4.2,"v":0.3},{"s":31,"y":4,"v":0.5},{"s":31,"y":3.8,"v":0.62},{"s":31,"y":3.6,"v":0.5},{"s":31,"y":3.4,"v":0.3},{"s":31,"y":3.2,"v":0.12},
{"s":32,"y":4.4,"v":0.12},{"s":32,"y":4.2,"v":0.3},{"s":32,"y":4,"v":0.5},{"s":32,"y":3.8,"v":0.62},{"s":32,"y":3.6,"v":0.5},{"s":32,"y":3.4,"v":0.3},{"s":32,"y":3.2,"v":0.12},
{"s":33,"y":4.2,"v":0.12},{"s":33,"y":4,"v":0.3},{"s":33,"y":3.8,"v":0.5},{"s":33,"y":3.6,"v":0.62},{"s":33,"y":3.4,"v":0.5},{"s":33,"y":3.2,"v":0.3},{"s":33,"y":3,"v":0.12},
{"s":34,"y":4.2,"v":0.12},{"s":34,"y":4,"v":0.3},{"s":34,"y":3.8,"v":0.5},{"s":34,"y":3.6,"v":0.62},{"s":34,"y":3.4,"v":0.5},{"s":34,"y":3.2,"v":0.3},{"s":34,"y":3,"v":0.12},
{"s":35,"y":4,"v":0.12},{"s":35,"y":3.8,"v":0.3},{"s":35,"y":3.6,"v":0.5},{"s":35,"y":3.4,"v":0.62},{"s":35,"y":3.2,"v":0.5},{"s":35,"y":3,"v":0.3},{"s":35,"y":2.8,"v":0.12},
{"s":36,"y":4,"v":0.1},{"s":36,"y":3.8,"v":0.25},{"s":36,"y":3.6,"v":0.4},{"s":36,"y":3.4,"v":0.5},{"s":36,"y":3.2,"v":0.4},{"s":36,"y":3,"v":0.25},{"s":36,"y":2.8,"v":0.1},
{"s":37,"y":3.8,"v":0.1},{"s":37,"y":3.6,"v":0.25},{"s":37,"y":3.4,"v":0.4},{"s":37,"y":3.2,"v":0.5},{"s":37,"y":3,"v":0.4},{"s":37,"y":2.8,"v":0.25},{"s":37,"y":2.6,"v":0.1},
{"s":38,"y":3.8,"v":0.1},{"s":38,"y":3.6,"v":0.25},{"s":38,"y":3.4,"v":0.4},{"s":38,"y":3.2,"v":0.5},{"s":38,"y":3,"v":0.4},{"s":38,"y":2.8,"v":0.25},{"s":38,"y":2.6,"v":0.1},
{"s":39,"y":3.6,"v":0.1},{"s":39,"y":3.4,"v":0.25},{"s":39,"y":3.2,"v":0.4},{"s":39,"y":3,"v":0.5},{"s":39,"y":2.8,"v":0.4},{"s":39,"y":2.6,"v":0.25},{"s":39,"y":2.4,"v":0.1},
{"s":40,"y":3.6,"v":0.1},{"s":40,"y":3.4,"v":0.25},{"s":40,"y":3.2,"v":0.4},{"s":40,"y":3,"v":0.5},{"s":40,"y":2.8,"v":0.4},{"s":40,"y":2.6,"v":0.25},{"s":40,"y":2.4,"v":0.1},
{"s":41,"y":3.4,"v":0.1},{"s":41,"y":3.2,"v":0.25},{"s":41,"y":3,"v":0.4},{"s":41,"y":2.8,"v":0.5},{"s":41,"y":2.6,"v":0.4},{"s":41,"y":2.4,"v":0.25},{"s":41,"y":2.2,"v":0.1},
{"s":42,"y":3.4,"v":0.1},{"s":42,"y":3.2,"v":0.25},{"s":42,"y":3,"v":0.4},{"s":42,"y":2.8,"v":0.5},{"s":42,"y":2.6,"v":0.4},{"s":42,"y":2.4,"v":0.25},{"s":42,"y":2.2,"v":0.1},
{"s":43,"y":3.2,"v":0.1},{"s":43,"y":3,"v":0.25},{"s":43,"y":2.8,"v":0.4},{"s":43,"y":2.6,"v":0.5},{"s":43,"y":2.4,"v":0.4},{"s":43,"y":2.2,"v":0.25},{"s":43,"y":2,"v":0.1},
{"s":44,"y":3.2,"v":0.1},{"s":44,"y":3,"v":0.25},{"s":44,"y":2.8,"v":0.4},{"s":44,"y":2.6,"v":0.5},{"s":44,"y":2.4,"v":0.4},{"s":44,"y":2.2,"v":0.25},{"s":44,"y":2,"v":0.1},
{"s":42,"y":2,"v":0.15},{"s":42,"y":1.8,"v":0.25},{"s":42,"y":1.6,"v":0.32},{"s":42,"y":1.4,"v":0.25},{"s":42,"y":1.2,"v":0.15},{"s":42,"y":1,"v":0.06},
{"s":43,"y":1.8,"v":0.15},{"s":43,"y":1.6,"v":0.25},{"s":43,"y":1.4,"v":0.32},{"s":43,"y":1.2,"v":0.25},{"s":43,"y":1,"v":0.15},{"s":43,"y":0.8,"v":0.06},
{"s":44,"y":1.8,"v":0.15},{"s":44,"y":1.6,"v":0.25},{"s":44,"y":1.4,"v":0.32},{"s":44,"y":1.2,"v":0.25},{"s":44,"y":1,"v":0.15},{"s":44,"y":0.8,"v":0.06},
{"s":45,"y":1.8,"v":0.15},{"s":45,"y":1.6,"v":0.25},{"s":45,"y":1.4,"v":0.32},{"s":45,"y":1.2,"v":0.25},{"s":45,"y":1,"v":0.15},{"s":45,"y":0.8,"v":0.06},
{"s":46,"y":1.8,"v":0.06},{"s":46,"y":1.6,"v":0.15},{"s":46,"y":1.4,"v":0.25},{"s":46,"y":1.2,"v":0.32},{"s":46,"y":1,"v":0.25},{"s":46,"y":0.8,"v":0.15},{"s":46,"y":0.6,"v":0.06},
{"s":47,"y":1.6,"v":0.15},{"s":47,"y":1.4,"v":0.25},{"s":47,"y":1.2,"v":0.32},{"s":47,"y":1,"v":0.25},{"s":47,"y":0.8,"v":0.15},{"s":47,"y":0.6,"v":0.06},
{"s":48,"y":1.6,"v":0.1},{"s":48,"y":1.4,"v":0.25},{"s":48,"y":1.2,"v":0.42},{"s":48,"y":1,"v":0.52},{"s":48,"y":0.8,"v":0.42},{"s":48,"y":0.6,"v":0.25},{"s":48,"y":0.4,"v":0.1},
{"s":49,"y":1.4,"v":0.1},{"s":49,"y":1.2,"v":0.25},{"s":49,"y":1,"v":0.42},{"s":49,"y":0.8,"v":0.52},{"s":49,"y":0.6,"v":0.42},{"s":49,"y":0.4,"v":0.25},{"s":49,"y":0.2,"v":0.1},
{"s":50,"y":1.4,"v":0.1},{"s":50,"y":1.2,"v":0.25},{"s":50,"y":1,"v":0.42},{"s":50,"y":0.8,"v":0.52},{"s":50,"y":0.6,"v":0.42},{"s":50,"y":0.4,"v":0.25},{"s":50,"y":0.2,"v":0.1},
{"s":51,"y":1.2,"v":0.1},{"s":51,"y":1,"v":0.25},{"s":51,"y":0.8,"v":0.42},{"s":51,"y":0.6,"v":0.52},{"s":51,"y":0.4,"v":0.42},{"s":51,"y":0.2,"v":0.25},{"s":51,"y":0,"v":0.1},
{"s":52,"y":1.2,"v":0.1},{"s":52,"y":1,"v":0.25},{"s":52,"y":0.8,"v":0.42},{"s":52,"y":0.6,"v":0.52},{"s":52,"y":0.4,"v":0.42},{"s":52,"y":0.2,"v":0.25},{"s":52,"y":0,"v":0.1},
{"s":53,"y":1,"v":0.1},{"s":53,"y":0.8,"v":0.25},{"s":53,"y":0.6,"v":0.42},{"s":53,"y":0.4,"v":0.52},{"s":53,"y":0.2,"v":0.42},{"s":53,"y":0,"v":0.25},{"s":53,"y":-0.2,"v":0.1},
{"s":54,"y":1,"v":0.1},{"s":54,"y":0.8,"v":0.25},{"s":54,"y":0.6,"v":0.42},{"s":54,"y":0.4,"v":0.52},{"s":54,"y":0.2,"v":0.42},{"s":54,"y":0,"v":0.25},{"s":54,"y":-0.2,"v":0.1},
{"s":55,"y":0.8,"v":0.12},{"s":55,"y":0.6,"v":0.32},{"s":55,"y":0.4,"v":0.58},{"s":55,"y":0.2,"v":0.72},{"s":55,"y":0,"v":0.58},{"s":55,"y":-0.2,"v":0.32},{"s":55,"y":-0.4,"v":0.12},
{"s":56,"y":0.6,"v":0.12},{"s":56,"y":0.4,"v":0.32},{"s":56,"y":0.2,"v":0.58},{"s":56,"y":0,"v":0.72},{"s":56,"y":-0.2,"v":0.58},{"s":56,"y":-0.4,"v":0.32},{"s":56,"y":-0.6,"v":0.12},
{"s":57,"y":0.6,"v":0.12},{"s":57,"y":0.4,"v":0.32},{"s":57,"y":0.2,"v":0.58},{"s":57,"y":0,"v":0.72},{"s":57,"y":-0.2,"v":0.58},{"s":57,"y":-0.4,"v":0.32},{"s":57,"y":-0.6,"v":0.12},
{"s":58,"y":0.4,"v":0.12},{"s":58,"y":0.2,"v":0.32},{"s":58,"y":0,"v":0.58},{"s":58,"y":-0.2,"v":0.72},{"s":58,"y":-0.4,"v":0.58},{"s":58,"y":-0.6,"v":0.32},{"s":58,"y":-0.8,"v":0.12},
{"s":59,"y":0.4,"v":0.12},{"s":59,"y":0.2,"v":0.32},{"s":59,"y":0,"v":0.58},{"s":59,"y":-0.2,"v":0.72},{"s":59,"y":-0.4,"v":0.58},{"s":59,"y":-0.6,"v":0.32},{"s":59,"y":-0.8,"v":0.12},
{"s":60,"y":0.2,"v":0.12},{"s":60,"y":0,"v":0.32},{"s":60,"y":-0.2,"v":0.58},{"s":60,"y":-0.4,"v":0.72},{"s":60,"y":-0.6,"v":0.58},{"s":60,"y":-0.8,"v":0.32},{"s":60,"y":-1,"v":0.12},
{"s":61,"y":0.2,"v":0.12},{"s":61,"y":0,"v":0.32},{"s":61,"y":-0.2,"v":0.58},{"s":61,"y":-0.4,"v":0.72},{"s":61,"y":-0.6,"v":0.58},{"s":61,"y":-0.8,"v":0.32},{"s":61,"y":-1,"v":0.12},
{"s":62,"y":0,"v":0.12},{"s":62,"y":-0.2,"v":0.32},{"s":62,"y":-0.4,"v":0.58},{"s":62,"y":-0.6,"v":0.72},{"s":62,"y":-0.8,"v":0.58},{"s":62,"y":-1,"v":0.32},{"s":62,"y":-1.2,"v":0.12},
{"s":63,"y":-0.2,"v":0.12},{"s":63,"y":-0.4,"v":0.32},{"s":63,"y":-0.6,"v":0.58},{"s":63,"y":-0.8,"v":0.72},{"s":63,"y":-1,"v":0.58},{"s":63,"y":-1.2,"v":0.32},{"s":63,"y":-1.4,"v":0.12},
{"s":64,"y":-0.2,"v":0.12},{"s":64,"y":-0.4,"v":0.32},{"s":64,"y":-0.6,"v":0.58},{"s":64,"y":-0.8,"v":0.72},{"s":64,"y":-1,"v":0.58},{"s":64,"y":-1.2,"v":0.32},{"s":64,"y":-1.4,"v":0.12},
{"s":65,"y":-0.4,"v":0.12},{"s":65,"y":-0.6,"v":0.32},{"s":65,"y":-0.8,"v":0.58},{"s":65,"y":-1,"v":0.72},{"s":65,"y":-1.2,"v":0.58},{"s":65,"y":-1.4,"v":0.32},{"s":65,"y":-1.6,"v":0.12},
{"s":66,"y":-0.4,"v":0.12},{"s":66,"y":-0.6,"v":0.32},{"s":66,"y":-0.8,"v":0.58},{"s":66,"y":-1,"v":0.72},{"s":66,"y":-1.2,"v":0.58},{"s":66,"y":-1.4,"v":0.32},{"s":66,"y":-1.6,"v":0.12},
{"s":67,"y":-0.6,"v":0.12},{"s":67,"y":-0.8,"v":0.32},{"s":67,"y":-1,"v":0.58},{"s":67,"y":-1.2,"v":0.72},{"s":67,"y":-1.4,"v":0.58},{"s":67,"y":-1.6,"v":0.32},{"s":67,"y":-1.8,"v":0.12},
{"s":68,"y":-0.6,"v":0.12},{"s":68,"y":-0.8,"v":0.32},{"s":68,"y":-1,"v":0.58},{"s":68,"y":-1.2,"v":0.72},{"s":68,"y":-1.4,"v":0.58},{"s":68,"y":-1.6,"v":0.32},{"s":68,"y":-1.8,"v":0.12},
{"s":69,"y":-0.8,"v":0.12},{"s":69,"y":-1,"v":0.32},{"s":69,"y":-1.2,"v":0.58},{"s":69,"y":-1.4,"v":0.72},{"s":69,"y":-1.6,"v":0.58},{"s":69,"y":-1.8,"v":0.32},{"s":69,"y":-2,"v":0.12},
{"s":70,"y":-0.8,"v":0.12},{"s":70,"y":-1,"v":0.32},{"s":70,"y":-1.2,"v":0.58},{"s":70,"y":-1.4,"v":0.72},{"s":70,"y":-1.6,"v":0.58},{"s":70,"y":-1.8,"v":0.32},{"s":70,"y":-2,"v":0.12},
{"s":45,"y":2.8,"v":0.2},{"s":45,"y":2.6,"v":0.35},{"s":45,"y":2.4,"v":0.45},{"s":45,"y":2.2,"v":0.35},{"s":45,"y":2,"v":0.2},
{"s":46,"y":2.8,"v":0.2},{"s":46,"y":2.6,"v":0.35},{"s":46,"y":2.4,"v":0.45},{"s":46,"y":2.2,"v":0.35},{"s":46,"y":2,"v":0.2},
{"s":47,"y":2.6,"v":0.2},{"s":47,"y":2.4,"v":0.35},{"s":47,"y":2.2,"v":0.45},{"s":47,"y":2,"v":0.35},{"s":47,"y":1.8,"v":0.2},
{"s":48,"y":2.6,"v":0.2},{"s":48,"y":2.4,"v":0.35},{"s":48,"y":2.2,"v":0.45},{"s":48,"y":2,"v":0.35},{"s":48,"y":1.8,"v":0.2},
{"s":49,"y":2.4,"v":0.2},{"s":49,"y":2.2,"v":0.35},{"s":49,"y":2,"v":0.45},{"s":49,"y":1.8,"v":0.35},{"s":49,"y":1.6,"v":0.2},
{"s":50,"y":2.4,"v":0.2},{"s":50,"y":2.2,"v":0.35},{"s":50,"y":2,"v":0.45},{"s":50,"y":1.8,"v":0.35},{"s":50,"y":1.6,"v":0.2},
{"s":51,"y":2.2,"v":0.2},{"s":51,"y":2,"v":0.35},{"s":51,"y":1.8,"v":0.45},{"s":51,"y":1.6,"v":0.35},{"s":51,"y":1.4,"v":0.2},
{"s":52,"y":2.2,"v":0.2},{"s":52,"y":2,"v":0.35},{"s":52,"y":1.8,"v":0.45},{"s":52,"y":1.6,"v":0.35},{"s":52,"y":1.4,"v":0.2},
{"s":53,"y":2,"v":0.12},{"s":53,"y":1.8,"v":0.22},{"s":53,"y":1.6,"v":0.28},{"s":53,"y":1.4,"v":0.22},{"s":53,"y":1.2,"v":0.12},
{"s":54,"y":2,"v":0.12},{"s":54,"y":1.8,"v":0.22},{"s":54,"y":1.6,"v":0.28},{"s":54,"y":1.4,"v":0.22},{"s":54,"y":1.2,"v":0.12},
{"s":55,"y":2,"v":0.12},{"s":55,"y":1.8,"v":0.22},{"s":55,"y":1.6,"v":0.28},{"s":55,"y":1.4,"v":0.22},{"s":55,"y":1.2,"v":0.12},
{"s":56,"y":1.8,"v":0.12},{"s":56,"y":1.6,"v":0.22},{"s":56,"y":1.4,"v":0.28},{"s":56,"y":1.2,"v":0.22},{"s":56,"y":1,"v":0.12},
{"s":57,"y":1.8,"v":0.12},{"s":57,"y":1.6,"v":0.22},{"s":57,"y":1.4,"v":0.28},{"s":57,"y":1.2,"v":0.22},{"s":57,"y":1,"v":0.12},
{"s":58,"y":1.8,"v":0.12},{"s":58,"y":1.6,"v":0.22},{"s":58,"y":1.4,"v":0.28},{"s":58,"y":1.2,"v":0.22},{"s":58,"y":1,"v":0.12},
{"s":59,"y":1.6,"v":0.12},{"s":59,"y":1.4,"v":0.22},{"s":59,"y":1.2,"v":0.28},{"s":59,"y":1,"v":0.22},{"s":59,"y":0.8,"v":0.12},
{"s":60,"y":1.6,"v":0.12},{"s":60,"y":1.4,"v":0.22},{"s":60,"y":1.2,"v":0.28},{"s":60,"y":1,"v":0.22},{"s":60,"y":0.8,"v":0.12},
{"s":61,"y":1.6,"v":0.12},{"s":61,"y":1.4,"v":0.22},{"s":61,"y":1.2,"v":0.28},{"s":61,"y":1,"v":0.22},{"s":61,"y":0.8,"v":0.12},
{"s":62,"y":1.6,"v":0.12},{"s":62,"y":1.4,"v":0.22},{"s":62,"y":1.2,"v":0.28},{"s":62,"y":1,"v":0.22},{"s":62,"y":0.8,"v":0.12},
{"s":63,"y":1.4,"v":0.12},{"s":63,"y":1.2,"v":0.22},{"s":63,"y":1,"v":0.28},{"s":63,"y":0.8,"v":0.22},{"s":63,"y":0.6,"v":0.12},
{"s":64,"y":1.4,"v":0.12},{"s":64,"y":1.2,"v":0.22},{"s":64,"y":1,"v":0.28},{"s":64,"y":0.8,"v":0.22},{"s":64,"y":0.6,"v":0.12},
{"s":65,"y":1.4,"v":0.12},{"s":65,"y":1.2,"v":0.22},{"s":65,"y":1,"v":0.28},{"s":65,"y":0.8,"v":0.22},{"s":65,"y":0.6,"v":0.12},
{"s":66,"y":1.4,"v":0.12},{"s":66,"y":1.2,"v":0.22},{"s":66,"y":1,"v":0.28},{"s":66,"y":0.8,"v":0.22},{"s":66,"y":0.6,"v":0.12},
{"s":67,"y":1.2,"v":0.12},{"s":67,"y":1,"v":0.22},{"s":67,"y":0.8,"v":0.28},{"s":67,"y":0.6,"v":0.22},{"s":67,"y":0.4,"v":0.12},
{"s":68,"y":1.2,"v":0.12},{"s":68,"y":1,"v":0.22},{"s":68,"y":0.8,"v":0.28},{"s":68,"y":0.6,"v":0.22},{"s":68,"y":0.4,"v":0.12},
{"s":69,"y":1.2,"v":0.12},{"s":69,"y":1,"v":0.22},{"s":69,"y":0.8,"v":0.28},{"s":69,"y":0.6,"v":0.22},{"s":69,"y":0.4,"v":0.12},
{"s":70,"y":1.2,"v":0.12},{"s":70,"y":1,"v":0.22},{"s":70,"y":0.8,"v":0.28},{"s":70,"y":0.6,"v":0.22},{"s":70,"y":0.4,"v":0.12}
]
},
"hconcat":[
{"width":552.6,"height":437.7,
"layer":[
{"data":{"name":"L"},
"mark":{"type":"point","shape":"M-1,-1.13H1V1.13H-1Z","size":65.6,"filled":true,"opacity":1,"strokeWidth":0,"clip":true},
"encoding":{
"x":{"field":"s","type":"quantitative","scale":{"domain":[0.5,70.1],"nice":false,"zero":false},"axis":{"orient":"bottom","values":[10,20,30,40,50,60,70],"title":"Observation Steps"}},
"y":{"field":"y","type":"quantitative","scale":{"domain":[-5.758,-0.858],"nice":false,"zero":false},"axis":{"orient":"left","values":[-5,-4,-3,-2,-1],"title":"Down Range (m)"}},
"color":{"field":"v","type":"quantitative","scale":{"domain":[0,1],"range":["#ffffff","#000000"]},"legend":null}}},
{"data":{"name":"LT"},
"mark":{"type":"point","filled":false,"stroke":"black","strokeWidth":1.6,"size":64,"opacity":1},
"encoding":{
"x":{"field":"s","type":"quantitative","scale":{"domain":[0.5,70.1],"nice":false,"zero":false},"axis":{"orient":"top","values":[10,20,30,40,50,60,70],"labels":false,"title":null}},
"y":{"field":"y","type":"quantitative","scale":{"domain":[-5.758,-0.858],"nice":false,"zero":false},"axis":{"orient":"right","values":[-5,-4,-3,-2,-1],"labels":false,"title":null}},
"shape":{"datum":"True state","type":"nominal","scale":{"range":["M-1,-1L1,1M-1,1L1,-1"]},"legend":{"title":null,"orient":"top-right","offset":8}}}}
]},
{"width":555,"height":437.7,
"layer":[
{"data":{"name":"R"},
"mark":{"type":"point","shape":"M-1,-0.71H1V0.71H-1Z","size":65.6,"filled":true,"opacity":1,"strokeWidth":0,"clip":true},
"encoding":{
"x":{"field":"s","type":"quantitative","scale":{"domain":[0.5,70.5],"nice":false,"zero":false},"axis":{"orient":"bottom","values":[10,20,30,40,50,60,70],"title":"Observation Steps"}},
"y":{"field":"y","type":"quantitative","scale":{"domain":[-7.855,7.76],"nice":false,"zero":false},"axis":{"orient":"left","values":[-6,-4,-2,0,2,4,6],"title":"Cross−Range (m)"}},
"color":{"field":"v","type":"quantitative","scale":{"domain":[0,1],"range":["#ffffff","#000000"]},"legend":null}}},
{"data":{"name":"RT"},
"mark":{"type":"point","filled":false,"stroke":"black","strokeWidth":1.6,"size":64,"opacity":1},
"encoding":{
"x":{"field":"s","type":"quantitative","scale":{"domain":[0.5,70.5],"nice":false,"zero":false},"axis":{"orient":"top","values":[10,20,30,40,50,60,70],"labels":false,"title":null}},
"y":{"field":"y","type":"quantitative","scale":{"domain":[-7.855,7.76],"nice":false,"zero":false},"axis":{"orient":"right","values":[-6,-4,-2,0,2,4,6],"labels":false,"title":null}},
"shape":{"datum":"True state","type":"nominal","scale":{"range":["M-1,-1L1,1M-1,1L1,-1"]},"legend":{"title":null,"orient":"top-right","offset":8}}}}
]}
]
}
